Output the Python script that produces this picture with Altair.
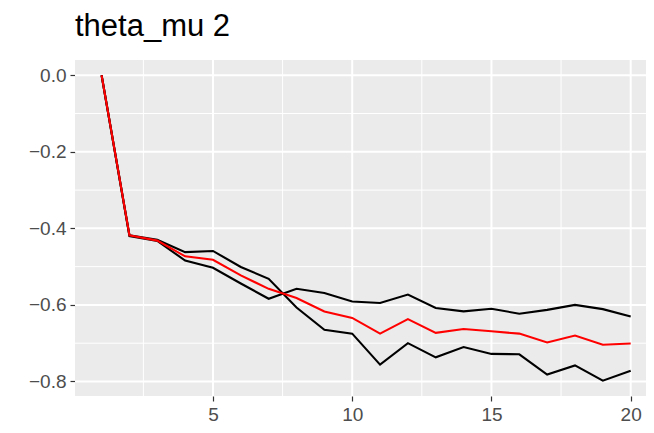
import altair as alt
import pandas as pd

x_vals = list(range(1, 21))
mean_line = [0.0, -0.418, -0.432, -0.473, -0.482, -0.523, -0.558, -0.582, -0.617, -0.634,
             -0.675, -0.637, -0.673, -0.663, -0.669, -0.675, -0.698, -0.680, -0.704, -0.701]
band_a = [0.0, -0.418, -0.430, -0.462, -0.459, -0.501, -0.532, -0.607, -0.665, -0.675,
          -0.756, -0.700, -0.737, -0.710, -0.728, -0.729, -0.782, -0.758, -0.798, -0.772]
band_b = [0.0, -0.420, -0.433, -0.484, -0.503, -0.544, -0.584, -0.558, -0.569, -0.591,
          -0.595, -0.573, -0.608, -0.617, -0.610, -0.623, -0.613, -0.600, -0.611, -0.630]

x_major = [5, 10, 15, 20]
x_minor = [2.5, 7.5, 12.5, 17.5]
y_major = [0.0, -0.2, -0.4, -0.6, -0.8]
y_minor = [-0.1, -0.3, -0.5, -0.7]

black_df = pd.DataFrame(
    {"x": x_vals * 2, "y": band_a + band_b, "s": ["a"] * 20 + ["b"] * 20}
)
red_df = pd.DataFrame({"x": x_vals, "y": mean_line})

xscale = alt.Scale(domain=[0.045, 20.55], nice=False, zero=False)
yscale = alt.Scale(domain=[-0.838, 0.0399], nice=False, zero=False)

FONT = "Liberation Sans"

axis_common = dict(
    grid=False, domain=False, title=None,
    labelFont=FONT, labelFontSize=19, labelColor="#4D4D4D",
    tickColor="#333333", tickSize=5, tickWidth=1.2, labelPadding=4,
)
xaxis = alt.Axis(values=x_major, format="d", **axis_common)
yaxis = alt.Axis(values=y_major, format=".1f", **axis_common)


def hgrid(vals, w):
    return alt.Chart(pd.DataFrame({"v": vals})).mark_rule(color="white", strokeWidth=w).encode(
        y=alt.Y("v:Q", scale=yscale, axis=yaxis)
    )


def vgrid(vals, w):
    return alt.Chart(pd.DataFrame({"v": vals})).mark_rule(color="white", strokeWidth=w).encode(
        x=alt.X("v:Q", scale=xscale, axis=xaxis)
    )


black = alt.Chart(black_df).mark_line(color="black", strokeWidth=2.1).encode(
    x=alt.X("x:Q", scale=xscale, axis=xaxis),
    y=alt.Y("y:Q", scale=yscale, axis=yaxis),
    detail="s:N",
)
red = alt.Chart(red_df).mark_line(color="#FF0000", strokeWidth=2.1).encode(
    x=alt.X("x:Q", scale=xscale, axis=xaxis),
    y=alt.Y("y:Q", scale=yscale, axis=yaxis),
)

chart = alt.layer(
    hgrid(y_minor, 1), vgrid(x_minor, 1), hgrid(y_major, 2), vgrid(x_major, 2), black, red
).properties(
    width=571, height=336,
    title=alt.TitleParams("theta_mu 2", anchor="start", frame="group", font=FONT, fontSize=31,
                          fontWeight="normal", color="black", offset=16),
    autosize=alt.AutoSizeParams(type="none"),
    padding={"left": 67, "top": 52, "right": 0, "bottom": 30},
).configure_view(fill="#EBEBEB", strokeWidth=0)

chart.save("out.html", embed_options={"renderer": "svg", "actions": False})
